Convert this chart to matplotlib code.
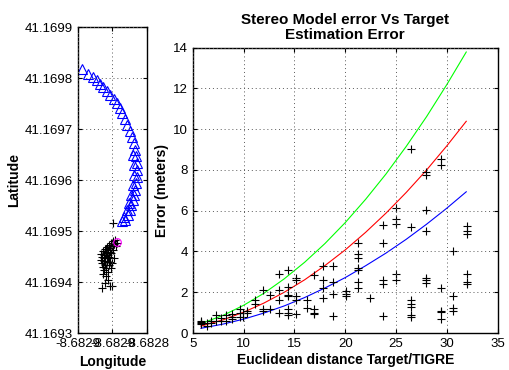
import numpy as np
import matplotlib
matplotlib.use('Agg')
import matplotlib.pyplot as plt
import matplotlib.ticker as plticker

plt.rcParams['font.family'] = ['Liberation Sans', 'DejaVu Sans']

# ---- left panel: TIGRE track (triangles) and target estimates (+) ----
tri_lon = [-8.682894, -8.682886, -8.682878, -8.682872, -8.682868, -8.682864,
           -8.682858, -8.682854, -8.682848, -8.682843, -8.682839, -8.682836,
           -8.682832, -8.682829, -8.682825, -8.682822, -8.682819, -8.682817,
           -8.682816, -8.682815, -8.682815, -8.682815, -8.682816, -8.682817,
           -8.682819, -8.682820, -8.682823, -8.682825, -8.682828, -8.682832,
           -8.682820, -8.682819, -8.682819, -8.682820, -8.682823, -8.682826,
           -8.682829, -8.682833, -8.682836]
tri_lat = [41.169818, 41.169808, 41.169802, 41.169796, 41.169788, 41.169782,
           41.169774, 41.169767, 41.169759, 41.169751, 41.169741, 41.169731,
           41.169720, 41.169708, 41.169696, 41.169684, 41.169673, 41.169659,
           41.169647, 41.169633, 41.169620, 41.169606, 41.169594, 41.169580,
           41.169571, 41.169561, 41.169551, 41.169541, 41.169531, 41.169522,
           41.169649, 41.169629, 41.169610, 41.169590, 41.169571, 41.169555,
           41.169541, 41.169527, 41.169520]

est_lon = [-8.6828493, -8.6828464, -8.6828493, -8.6828522, -8.6828478, -8.6828551,
           -8.6828507, -8.6828580, -8.6828536, -8.6828609, -8.6828565, -8.6828638,
           -8.6828594, -8.6828536, -8.6828667, -8.6828623, -8.6828580, -8.6828652,
           -8.6828609, -8.6828565, -8.6828667, -8.6828623, -8.6828580, -8.6828652,
           -8.6828609, -8.6828551, -8.6828638, -8.6828594, -8.6828522, -8.6828623,
           -8.6828565, -8.6828638, -8.6828594, -8.6828507, -8.6828478, -8.6828493,
           -8.6828435, -8.6828449, -8.6828652, -8.6828536, -8.6828507, -8.6828565,
           -8.6828609, -8.6828520, -8.6828550, -8.6828600, -8.6828580, -8.6828625,
           -8.6828540, -8.6828590]
est_lat = [41.1695157, 41.1694824, 41.1694804, 41.1694765, 41.1694745, 41.1694725,
           41.1694706, 41.1694686, 41.1694667, 41.1694647, 41.1694627, 41.1694608,
           41.1694588, 41.1694588, 41.1694549, 41.1694529, 41.1694529, 41.1694490,
           41.1694471, 41.1694471, 41.1694431, 41.1694412, 41.1694392, 41.1694373,
           41.1694333, 41.1694333, 41.1694294, 41.1694274, 41.1694274, 41.1694235,
           41.1694196, 41.1694157, 41.1694118, 41.1694373, 41.1694471, 41.1694627,
           41.1694765, 41.1694706, 41.1693882, 41.1693922, 41.1693922, 41.1694039,
           41.1693980, 41.1694560, 41.1694500, 41.1694560, 41.1694420, 41.1694470,
           41.1694400, 41.1694640]

target_lon = [-8.682844]
target_lat = [41.169479]

# ---- right panel: model error curves and measured errors ----
model_dist = [5.8, 8, 10, 12, 14, 16, 18, 20, 22, 24, 26, 28, 30, 31.9]
model_green = [0.46, 0.87, 1.36, 1.95, 2.66, 3.47, 4.39, 5.42, 6.56, 7.80, 9.16, 10.62, 12.2, 13.79]
model_red = [0.34, 0.65, 1.02, 1.47, 2.0, 2.61, 3.31, 4.08, 4.94, 5.88, 6.9, 8.0, 9.19, 10.39]
model_blue = [0.23, 0.44, 0.68, 0.98, 1.33, 1.74, 2.21, 2.72, 3.30, 3.92, 4.60, 5.34, 6.13, 6.93]

meas_dist = [5.85, 5.85, 5.85, 5.85, 6.35, 6.35, 6.84, 6.84, 7.33, 7.33,
             7.82, 7.82, 8.31, 8.31, 8.81, 8.81, 8.81, 9.63, 9.63, 9.63,
             9.96, 9.96, 10.35, 10.35, 11.1, 11.1, 11.86, 11.86, 11.86, 12.58, 12.58,
             13.47, 13.47, 13.47, 13.47,
             14.39, 14.39, 14.39, 14.39, 14.39, 14.39, 14.39,
             15.2, 15.2, 15.2, 15.2, 15.2, 16.19, 16.19,
             16.95, 16.95, 16.95, 16.95, 17.83, 17.83, 17.83, 17.83,
             18.75, 18.75, 18.75, 18.75, 20.06, 20.06, 20.06,
             21.21, 21.21, 21.21, 21.21, 21.21, 21.21, 21.21, 22.43,
             23.74, 23.74, 23.74, 23.74, 23.74,
             24.99, 24.99, 24.99, 24.99, 24.99,
             26.43, 26.43, 26.43, 26.43, 26.43, 26.43, 26.43,
             27.9, 27.9, 27.9, 27.9, 27.9, 27.9, 27.9,
             29.42, 29.42, 29.42, 29.42, 29.42, 29.42,
             30.63, 30.63, 30.63, 30.63,
             31.94, 31.94, 31.94, 31.94, 31.94, 31.94]
meas_err = [0.5, 0.6, 0.45, 0.55, 0.35, 0.5, 0.5, 0.6, 0.6, 0.9,
            0.6, 0.75, 0.6, 0.9, 0.7, 0.8, 0.95, 0.8, 1.0, 1.2,
            0.8, 1.0, 1.0, 1.1, 1.4, 1.6, 2.1, 1.2, 1.1, 1.85, 1.2,
            2.9, 2.1, 1.6, 1.0,
            3.1, 2.25, 1.85, 1.8, 1.2, 1.0, 0.9,
            2.7, 2.6, 1.8, 1.6, 0.95, 1.6, 1.25,
            2.85, 1.2, 1.0, 0.95, 3.3, 2.6, 2.2, 1.7,
            3.3, 2.5, 1.9, 0.85, 2.05, 1.9, 1.8,
            4.4, 3.9, 3.7, 3.2, 3.1, 2.5, 2.2, 1.7,
            5.3, 4.4, 2.6, 2.4, 0.85,
            6.15, 5.6, 5.35, 2.9, 2.6,
            9.05, 5.2, 1.6, 1.4, 1.3, 0.9, 0.8,
            7.9, 7.75, 6.05, 5.0, 2.7, 2.6, 2.45,
            8.56, 8.24, 2.2, 1.1, 1.05, 0.7,
            4.0, 1.8, 1.25, 1.1,
            5.25, 5.0, 4.85, 2.9, 2.5, 2.4]

grid_kw = dict(color='0.35', linestyle=(0, (1, 3)), linewidth=0.7)

fig = plt.figure(figsize=(5.1, 3.7), dpi=100)

ax1 = fig.add_axes([0.153, 0.1, 0.135, 0.827])
ax1.plot(tri_lon, tri_lat, '^', color='#0000ff', markerfacecolor='none',
         markersize=7, markeredgewidth=0.8)
ax1.plot(est_lon, est_lat, '+', color='k', markersize=6, markeredgewidth=0.8)
ax1.plot(target_lon, target_lat, 'o', color='#ff00ff', markerfacecolor='none',
         markersize=5.5, markeredgewidth=0.8)
ax1.set_xlim(-8.6829, -8.6828)
ax1.set_ylim(41.1693, 41.1699)
ax1.set_xticks([-8.6829, -8.68285, -8.6828])
ax1.set_yticks(np.arange(41.1693, 41.16995, 0.0001))
ax1.xaxis.set_major_formatter(plticker.FormatStrFormatter('%.4f'))
ax1.yaxis.set_major_formatter(plticker.FormatStrFormatter('%.4f'))
ax1.set_xlabel('Longitude', fontsize=10, weight='bold', labelpad=4)
ax1.set_ylabel('Latitude', fontsize=10, weight='bold', labelpad=3)
ax1.grid(True, **grid_kw)

ax2 = fig.add_axes([0.378, 0.1, 0.598, 0.771])
ax2.plot(model_dist, model_green, color='#00ff00', linewidth=0.8)
ax2.plot(model_dist, model_red, color='#ff0000', linewidth=0.8)
ax2.plot(model_dist, model_blue, color='#0000ff', linewidth=0.8)
ax2.plot(meas_dist, meas_err, '+', color='k', markersize=6, markeredgewidth=0.8)
ax2.set_xlim(5, 35)
ax2.set_ylim(0, 14)
ax2.set_xticks(range(5, 36, 5))
ax2.set_yticks(range(0, 15, 2))
ax2.set_xlabel('Euclidean distance Target/TIGRE', fontsize=10, weight='bold', labelpad=2)
ax2.set_ylabel('Error (meters)', fontsize=10, weight='bold', labelpad=3)
ax2.set_title('Stereo Model error Vs Target\nEstimation Error', fontsize=11,
              weight='bold', pad=6, linespacing=1.1)
ax2.grid(True, **grid_kw)

for ax in (ax1, ax2):
    ax.tick_params(direction='in', top=True, right=True, labelsize=9.5,
                   length=3, width=0.8)
    for s in ax.spines.values():
        s.set_linewidth(1.0)
    ax.set_axisbelow(False)

fig.savefig('out.png', dpi=100)
